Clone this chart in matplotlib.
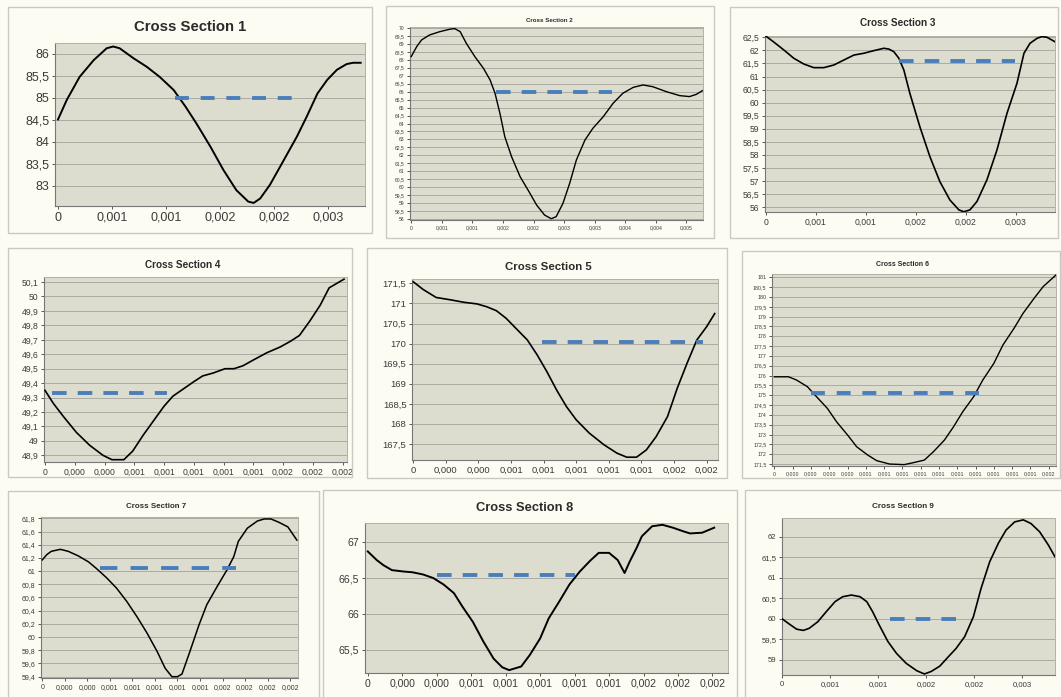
import numpy as np
import matplotlib
matplotlib.use("Agg")
import matplotlib.pyplot as plt
from matplotlib.patches import Rectangle

plt.rcParams['font.family'] = ['Liberation Sans', 'DejaVu Sans']
plt.rcParams['lines.scale_dashes'] = False

# ---------------------------------------------------------
# DATA (x in m, y in elevation)
# ---------------------------------------------------------
cs1_x = [0, 0.00008, 0.0002, 0.00033, 0.00045, 0.00051, 0.00057, 0.0007, 0.00082, 0.00094,
         0.00107, 0.00118, 0.00128, 0.00141, 0.00153, 0.00165, 0.00176, 0.00181, 0.00187,
         0.00196, 0.00209, 0.00221, 0.0023, 0.0024, 0.00249, 0.00258, 0.00267, 0.00273, 0.0028]
cs1_y = [84.51, 84.95, 85.48, 85.86, 86.13, 86.17, 86.13, 85.90, 85.71, 85.48,
         85.18, 84.80, 84.42, 83.89, 83.36, 82.90, 82.64, 82.61, 82.71,
         83.02, 83.59, 84.12, 84.57, 85.10, 85.41, 85.64, 85.77, 85.80, 85.80]
cs1_level = 85.0
cs1_level_x = [0.00108, 0.00219]
cs1_yticks = [83, 83.5, 84, 84.5, 85, 85.5, 86]
cs1_xticks = [0, 0.0005, 0.001, 0.0015, 0.002, 0.0025]
cs1_xlabels = ['0', '0,001', '0,001', '0,002', '0,002', '0,003']

cs2_x = [0, 0.00009, 0.00017, 0.0003, 0.00047, 0.00063, 0.00071, 0.0008, 0.0009, 0.00104,
         0.00118, 0.00129, 0.00137, 0.00145, 0.00153, 0.00164, 0.00178, 0.00191, 0.00205,
         0.00218, 0.00229, 0.00237, 0.00248, 0.00259, 0.0027, 0.00284, 0.00297, 0.00314,
         0.0033, 0.00346, 0.00363, 0.00379, 0.00395, 0.00417, 0.00439, 0.00455, 0.00466, 0.00476]
cs2_y = [68.2, 68.83, 69.25, 69.56, 69.77, 69.92, 69.96, 69.77, 69.04, 68.20,
         67.47, 66.73, 65.90, 64.64, 63.17, 61.92, 60.66, 59.82, 58.88,
         58.25, 58.02, 58.15, 58.98, 60.24, 61.71, 62.96, 63.70, 64.43,
         65.27, 65.90, 66.27, 66.42, 66.31, 66.0, 65.75, 65.69, 65.83, 66.06]
cs2_level = 66.0
cs2_level_x = [0.00138, 0.00329]
cs2_yticks = np.arange(58, 70.01, 0.5)
cs2_xticks = [0, 0.0005, 0.001, 0.0015, 0.002, 0.0025, 0.003, 0.0035, 0.004, 0.0045]
cs2_xlabels = ['0', '0,001', '0,001', '0,002', '0,002', '0,003', '0,003', '0,004', '0,004', '0,005']

cs3_x = [0, 0.000077, 0.00018, 0.00028, 0.00038, 0.00048, 0.00058, 0.00068, 0.00078, 0.00088,
         0.00098, 0.00108, 0.00118, 0.00123, 0.00128, 0.00133, 0.00138, 0.00144, 0.00154,
         0.00164, 0.00174, 0.00184, 0.00193, 0.00198, 0.00204, 0.00211, 0.00221, 0.00231,
         0.00241, 0.00251, 0.00258, 0.00264, 0.00271, 0.00276, 0.00281, 0.00289]
cs3_y = [62.55, 62.33, 62.02, 61.70, 61.48, 61.34, 61.34, 61.44, 61.63, 61.82,
         61.89, 61.99, 62.08, 62.05, 61.95, 61.70, 61.25, 60.36, 59.08,
         57.94, 56.98, 56.28, 55.90, 55.83, 55.90, 56.22, 57.05, 58.19,
         59.59, 60.74, 61.89, 62.27, 62.46, 62.53, 62.5, 62.33]
cs3_level = 61.6
cs3_level_x = [0.00133, 0.00249]
cs3_yticks = np.arange(56, 62.51, 0.5)
cs3_xticks = [0, 0.0005, 0.001, 0.0015, 0.002, 0.0025]
cs3_xlabels = ['0', '0,001', '0,001', '0,002', '0,002', '0,003']

cs4_x = [0, 0.000056, 0.000123, 0.00021, 0.0003, 0.00039, 0.00045, 0.00053, 0.00059, 0.00066,
         0.00073, 0.0008, 0.00086, 0.00093, 0.001, 0.00106, 0.00113, 0.00121, 0.00127,
         0.00133, 0.0014, 0.00149, 0.00158, 0.00165, 0.00171, 0.00178, 0.00185, 0.00191, 0.00201]
cs4_y = [49.35, 49.26, 49.17, 49.06, 48.97, 48.90, 48.87, 48.87, 48.93, 49.04,
         49.14, 49.24, 49.31, 49.36, 49.41, 49.45, 49.47, 49.50, 49.50,
         49.52, 49.56, 49.61, 49.65, 49.69, 49.73, 49.83, 49.94, 50.06, 50.12]
cs4_level = 49.33
cs4_level_x = [0.000045, 0.00082]
cs4_yticks = [48.9, 49.0, 49.1, 49.2, 49.3, 49.4, 49.5, 49.6, 49.7, 49.8, 49.9, 50.0, 50.1]
cs4_xticks = [0, 0.0002, 0.0004, 0.0006, 0.0008, 0.001, 0.0012, 0.0014, 0.0016, 0.0018, 0.002]
cs4_xlabels = ['0', '0,000', '0,000', '0,001', '0,001', '0,001', '0,001', '0,001', '0,002', '0,002', '0,002']

cs5_x = [0, 0.00006, 0.00014, 0.00023, 0.00031, 0.00039, 0.00045, 0.00051, 0.00057, 0.00063,
         0.0007, 0.00076, 0.00082, 0.00088, 0.00094, 0.001, 0.00108, 0.00117, 0.00125,
         0.00131, 0.00137, 0.00143, 0.00149, 0.00156, 0.00162, 0.00168, 0.00174, 0.0018, 0.00185]
cs5_y = [171.54, 171.35, 171.15, 171.09, 171.03, 170.99, 170.92, 170.82, 170.63, 170.38,
         170.09, 169.72, 169.30, 168.84, 168.43, 168.10, 167.77, 167.48, 167.27,
         167.17, 167.17, 167.35, 167.68, 168.18, 168.89, 169.51, 170.09, 170.42, 170.75]
cs5_level = 170.03
cs5_level_x = [0.00079, 0.00178]
cs5_yticks = [167.5, 168, 168.5, 169, 169.5, 170, 170.5, 171, 171.5]
cs5_xticks = [0, 0.0002, 0.0004, 0.0006, 0.0008, 0.001, 0.0012, 0.0014, 0.0016, 0.0018]
cs5_xlabels = ['0', '0,000', '0,000', '0,001', '0,001', '0,001', '0,001', '0,001', '0,002', '0,002']

cs6_x = [0, 0.000077, 0.00012, 0.00018, 0.00023, 0.00029, 0.00034, 0.0004, 0.00045, 0.00051,
         0.00056, 0.00063, 0.00071, 0.00076, 0.00082, 0.00087, 0.00093, 0.00098, 0.00103,
         0.00109, 0.00114, 0.0012, 0.00125, 0.00131, 0.00136, 0.00142, 0.00147, 0.00154]
cs6_y = [175.94, 175.94, 175.78, 175.44, 174.93, 174.33, 173.65, 172.98, 172.38, 171.96,
         171.67, 171.50, 171.47, 171.57, 171.70, 172.13, 172.72, 173.40, 174.16,
         174.93, 175.78, 176.62, 177.56, 178.40, 179.17, 179.93, 180.53, 181.12]
cs6_level = 175.1
cs6_level_x = [0.0002, 0.00112]
cs6_yticks = np.arange(171.5, 181.01, 0.5)
cs6_xticks = [0, 0.0001, 0.0002, 0.0003, 0.0004, 0.0005, 0.0006, 0.0007, 0.0008, 0.0009,
              0.001, 0.0011, 0.0012, 0.0013, 0.0014, 0.0015]
cs6_xlabels = ['0', '0,000', '0,000', '0,000', '0,000', '0,001', '0,001', '0,001', '0,001',
               '0,001', '0,001', '0,001', '0,001', '0,001', '0,001', '0,002']

cs7_x = [0, 0.00004, 0.00008, 0.00016, 0.00023, 0.00032, 0.00041, 0.00048, 0.00057, 0.00066,
         0.00075, 0.00084, 0.00093, 0.00102, 0.00109, 0.00115, 0.0012, 0.00124, 0.00131,
         0.00139, 0.00146, 0.00155, 0.00164, 0.0017, 0.00174, 0.00182, 0.00191, 0.00197,
         0.00203, 0.0021, 0.00218, 0.00226]
cs7_y = [61.17, 61.25, 61.30, 61.33, 61.30, 61.23, 61.14, 61.04, 60.90, 60.74,
         60.54, 60.31, 60.06, 59.78, 59.53, 59.40, 59.40, 59.44, 59.78,
         60.18, 60.49, 60.76, 61.02, 61.22, 61.45, 61.65, 61.76, 61.79,
         61.79, 61.74, 61.67, 61.47]
cs7_level = 61.04
cs7_level_x = [0.00051, 0.00172]
cs7_yticks = [59.4, 59.6, 59.8, 60.0, 60.2, 60.4, 60.6, 60.8, 61.0, 61.2, 61.4, 61.6, 61.8]
cs7_xticks = [0, 0.0002, 0.0004, 0.0006, 0.0008, 0.001, 0.0012, 0.0014, 0.0016, 0.0018, 0.002, 0.0022]
cs7_xlabels = ['0', '0,000', '0,000', '0,001', '0,001', '0,001', '0,001', '0,001',
               '0,002', '0,002', '0,002', '0,002']

cs8_x = [0, 0.000052, 0.00009, 0.00014, 0.00021, 0.00026, 0.00032, 0.00038, 0.00044, 0.0005,
         0.00055, 0.00061, 0.00067, 0.00073, 0.00078, 0.00082, 0.00089, 0.00094, 0.001,
         0.00105, 0.00111, 0.00117, 0.00123, 0.00129, 0.00134, 0.0014, 0.00145, 0.00149,
         0.00152, 0.00156, 0.00159, 0.00165, 0.00171, 0.00177, 0.00183, 0.00187, 0.00194, 0.00201]
cs8_y = [66.87, 66.75, 66.68, 66.61, 66.59, 66.58, 66.55, 66.50, 66.41, 66.29,
         66.10, 65.89, 65.62, 65.38, 65.26, 65.22, 65.27, 65.43, 65.66,
         65.94, 66.17, 66.41, 66.59, 66.74, 66.85, 66.85, 66.75, 66.57,
         66.73, 66.92, 67.08, 67.22, 67.24, 67.20, 67.15, 67.12, 67.13, 67.20]
cs8_level = 66.54
cs8_level_x = [0.0004, 0.0012]
cs8_yticks = [65.5, 66, 66.5, 67]
cs8_xticks = [0, 0.0002, 0.0004, 0.0006, 0.0008, 0.001, 0.0012, 0.0014, 0.0016, 0.0018, 0.002]
cs8_xlabels = ['0', '0,000', '0,000', '0,001', '0,001', '0,001', '0,001', '0,001', '0,002', '0,002', '0,002']

cs9_x = [0, 0.000076, 0.00015, 0.00022, 0.00028, 0.00037, 0.00046, 0.00055, 0.00063, 0.00072,
         0.00081, 0.00088, 0.00094, 0.00101, 0.0011, 0.00119, 0.00129, 0.0014, 0.00148,
         0.00155, 0.00164, 0.00173, 0.00181, 0.0019, 0.00199, 0.00207, 0.00216, 0.00225,
         0.00233, 0.00242, 0.00251, 0.00259, 0.00268, 0.00277, 0.00284]
cs9_y = [60.0, 59.87, 59.75, 59.72, 59.77, 59.93, 60.18, 60.42, 60.54, 60.58,
         60.54, 60.42, 60.18, 59.85, 59.45, 59.16, 58.92, 58.74, 58.66,
         58.72, 58.85, 59.08, 59.28, 59.57, 60.05, 60.74, 61.39, 61.84,
         62.16, 62.36, 62.41, 62.32, 62.12, 61.80, 61.51]
cs9_level = 60.0
cs9_level_x = [0.00112, 0.00181]
cs9_yticks = [59, 59.5, 60, 60.5, 61, 61.5, 62]
cs9_xticks = [0, 0.0005, 0.001, 0.0015, 0.002, 0.0025]
cs9_xlabels = ['0', '0,001', '0,001', '0,002', '0,002', '0,003']

# ---------------------------------------------------------
# LAYOUT (pixels in a 1061x697 canvas)
# ---------------------------------------------------------
W, H = 1061, 697
BG = '#fcfcf3'
AREA = '#dcdccf'
BLUE = '#4a7ebb'

panels = [
    dict(frame=(8, 7, 372, 233), area=(55, 43, 365, 206), title_xy=(190, 27), tsize=10.7, ksize=9,
         xlim=(-0.000028, 0.00284), ylim=(82.54, 86.25), lw=1.4, dash=(10, 8.5),
         name='Cross Section 1', x=cs1_x, y=cs1_y, level=cs1_level, level_x=cs1_level_x,
         yticks=cs1_yticks, xticks=cs1_xticks, xlabels=cs1_xlabels),
    dict(frame=(386, 6, 714, 238), area=(410, 27, 703, 220), title_xy=(549, 20), tsize=4.4, ksize=3.6,
         xlim=(-0.00002, 0.00477), ylim=(57.94, 70.06), lw=1.0, dash=(10.5, 8),
         name='Cross Section 2', x=cs2_x, y=cs2_y, level=cs2_level, level_x=cs2_level_x,
         yticks=cs2_yticks, xticks=cs2_xticks, xlabels=cs2_xlabels),
    dict(frame=(730, 7, 1058, 238), area=(765, 36, 1055, 212), title_xy=(898, 23), tsize=7.2, ksize=6.2,
         xlim=(-0.000007, 0.00289), ylim=(55.82, 62.55), lw=1.2, dash=(10.5, 8),
         name='Cross Section 3', x=cs3_x, y=cs3_y, level=cs3_level, level_x=cs3_level_x,
         yticks=cs3_yticks, xticks=cs3_xticks, xlabels=cs3_xlabels),
    dict(frame=(8, 248, 352, 477), area=(44, 277, 347, 462), title_xy=(183, 265), tsize=7.2, ksize=6.2,
         xlim=(-0.0000067, 0.00203), ylim=(48.854, 50.135), lw=1.2, dash=(10.5, 8),
         name='Cross Section 4', x=cs4_x, y=cs4_y, level=cs4_level, level_x=cs4_level_x,
         yticks=cs4_yticks, xticks=cs4_xticks, xlabels=cs4_xlabels),
    dict(frame=(367, 248, 727, 478), area=(412, 279, 718, 460), title_xy=(548, 267), tsize=8.2, ksize=6.8,
         xlim=(-0.000008, 0.00187), ylim=(167.1, 171.61), lw=1.2, dash=(10.5, 8),
         name='Cross Section 5', x=cs5_x, y=cs5_y, level=cs5_level, level_x=cs5_level_x,
         yticks=cs5_yticks, xticks=cs5_xticks, xlabels=cs5_xlabels),
    dict(frame=(742, 251, 1060, 478), area=(772, 274, 1056, 466), title_xy=(903, 265), tsize=5.0, ksize=3.8,
         xlim=(-0.000013, 0.00154), ylim=(171.4, 181.17), lw=1.0, dash=(10, 8.5),
         name='Cross Section 6', x=cs6_x, y=cs6_y, level=cs6_level, level_x=cs6_level_x,
         yticks=cs6_yticks, xticks=cs6_xticks, xlabels=cs6_xlabels),
    dict(frame=(8, 491, 319, 700), area=(41, 517, 298, 678), title_xy=(156, 506), tsize=5.7, ksize=5.0,
         xlim=(-0.0000116, 0.00227), ylim=(59.38, 61.82), lw=1.1, dash=(12.5, 9.5),
         name='Cross Section 7', x=cs7_x, y=cs7_y, level=cs7_level, level_x=cs7_level_x,
         yticks=cs7_yticks, xticks=cs7_xticks, xlabels=cs7_xlabels),
    dict(frame=(323, 490, 737, 700), area=(365, 523, 728, 673), title_xy=(525, 508), tsize=9.3, ksize=7.6,
         xlim=(-0.000016, 0.00209), ylim=(65.18, 67.265), lw=1.4, dash=(10.5, 8),
         name='Cross Section 8', x=cs8_x, y=cs8_y, level=cs8_level, level_x=cs8_level_x,
         yticks=cs8_yticks, xticks=cs8_xticks, xlabels=cs8_xlabels),
    dict(frame=(745, 490, 1063, 700), area=(782, 518, 1055, 675), title_xy=(903, 506), tsize=5.9, ksize=5.6,
         xlim=(-0.0000024, 0.00284), ylim=(58.635, 62.455), lw=1.2, dash=(10.5, 8),
         name='Cross Section 9', x=cs9_x, y=cs9_y, level=cs9_level, level_x=cs9_level_x,
         yticks=cs9_yticks, xticks=cs9_xticks, xlabels=cs9_xlabels),
]


def fmt(v):
    return f"{round(v, 2):g}".replace('.', ',')


fig = plt.figure(figsize=(W / 100, H / 100), dpi=100)
fig.patch.set_facecolor(BG)

for p in panels:
    fx0, fy0, fx1, fy1 = p['frame']
    fig.add_artist(Rectangle((fx0 / W, 1 - fy1 / H), (fx1 - fx0) / W, (fy1 - fy0) / H,
                             transform=fig.transFigure, facecolor='none',
                             edgecolor='#c9c9c0', lw=1.0))

    ax0, ay0, ax1, ay1 = p['area']
    ax = fig.add_axes([ax0 / W, 1 - ay1 / H, (ax1 - ax0) / W, (ay1 - ay0) / H])
    ax.set_facecolor(AREA)
    ax.plot(p['x'], p['y'], color='black', lw=p['lw'], zorder=3)
    ax.plot(p['level_x'], [p['level'], p['level']], color=BLUE, lw=2.8,
            linestyle=(0, p['dash']), dash_capstyle='butt', zorder=4)

    ax.set_xlim(*p['xlim'])
    ax.set_ylim(*p['ylim'])
    ax.set_yticks(p['yticks'])
    ax.set_yticklabels([fmt(v) for v in p['yticks']])
    ax.set_xticks(p['xticks'])
    ax.set_xticklabels(p['xlabels'])
    ax.tick_params(labelsize=p['ksize'], colors='#555555', labelcolor='#3a3a3a',
                   length=2.5, width=0.7, pad=1.5)
    ax.grid(axis='y', color='#a3a39a', lw=0.6)
    ax.set_axisbelow(True)
    for side in ['top', 'right']:
        ax.spines[side].set_color('#b0b0a8')
        ax.spines[side].set_linewidth(0.7)
    for side in ['left', 'bottom']:
        ax.spines[side].set_color('#777777')
        ax.spines[side].set_linewidth(0.8)

    tx, ty = p['title_xy']
    fig.text(tx / W, 1 - ty / H, p['name'], ha='center', va='center',
             fontsize=p['tsize'], fontweight='bold', color='#2b2b2b')

fig.savefig('out.png', dpi=100, facecolor=fig.get_facecolor())
